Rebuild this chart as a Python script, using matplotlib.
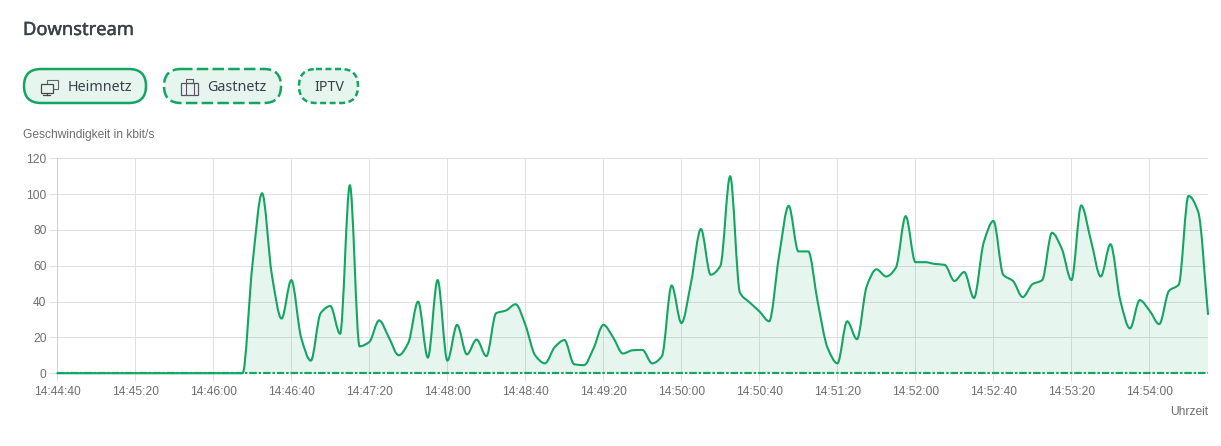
import numpy as np
import matplotlib
matplotlib.use('Agg')
import matplotlib.pyplot as plt
import matplotlib.patheffects as pe
from matplotlib.patches import FancyBboxPatch, PathPatch, Rectangle
from matplotlib.path import Path

# one sample every 5 seconds, starting at 14:44:40
heimnetz = [0] * 20 + [
    60, 100.5, 55, 30.5, 52, 20, 7, 33.5, 37.5, 22,
    105, 15, 17.5, 29.5, 20, 10, 17, 40, 8.7, 52,
    7, 27, 10.5, 18.8, 9.5, 33.5, 35, 38.5, 27, 10,
    5.5, 14.5, 18.5, 5, 4.5, 14, 27, 20, 11, 12.8,
    13, 5.5, 9.5, 49, 28, 51, 80.5, 55, 60, 110,
    45, 39.5, 34.5, 29, 65, 93.5, 68, 68, 39, 14,
    5.5, 29, 19, 48.5, 58, 54, 59, 87.7, 62, 62,
    61, 60.5, 51.5, 56.5, 42, 73, 85, 55, 51.5, 42.5,
    49.7, 52, 78.4, 69.6, 52, 93.7, 74, 54, 72, 40.8,
    25, 40.8, 35, 27.4, 46, 49.5, 99, 90, 33,
]
gastnetz = [0] * len(heimnetz)
iptv = [0] * len(heimnetz)
seconds = [5 * i for i in range(len(heimnetz))]

tick_seconds = list(range(0, 561, 40))
tick_labels = ['14:44:40', '14:45:20', '14:46:00', '14:46:40', '14:47:20',
               '14:48:00', '14:48:40', '14:49:20', '14:50:00', '14:50:40',
               '14:51:20', '14:52:00', '14:52:40', '14:53:20', '14:54:00']
y_ticks = [0, 20, 40, 60, 80, 100, 120]

GREEN = '#14a562'
FILL = '#e6f5ee'
GRID = '#e0e0e0'
TICK_TEXT = '#6f6f6f'
DARK = '#3b4149'


def monotone_path(x, y):
    # bezier segments with monotone tangents, same smoothing the web chart uses
    x = np.asarray(x, float)
    y = np.asarray(y, float)
    h = np.diff(x)
    s = np.diff(y) / h
    m = np.zeros(len(x))
    for i in range(1, len(x) - 1):
        if s[i - 1] * s[i] > 0:
            m[i] = 2 * s[i - 1] * s[i] / (s[i - 1] + s[i])
    m[0] = s[0]
    m[-1] = s[-1]
    verts = [(x[0], y[0])]
    codes = [Path.MOVETO]
    for i in range(len(x) - 1):
        verts += [(x[i] + h[i] / 3, y[i] + m[i] * h[i] / 3),
                  (x[i + 1] - h[i] / 3, y[i + 1] - m[i + 1] * h[i] / 3),
                  (x[i + 1], y[i + 1])]
        codes += [Path.CURVE4] * 3
    return verts, codes


W, H = 1221, 446
fig = plt.figure(figsize=(W / 100, H / 100), dpi=100)
plt.rcParams['font.family'] = ['Liberation Sans', 'DejaVu Sans']

ax = fig.add_axes([57.3 / W, 1 - 373.2 / H, (1208 - 57.3) / W, (373.2 - 158.3) / H])
ax.set_xlim(0, 590)
ax.set_ylim(0, 120)
ax.set_xticks(tick_seconds)
ax.set_xticklabels(tick_labels)
ax.set_yticks(y_ticks)
ax.grid(True, color=GRID, linewidth=0.72)
ax.set_axisbelow(True)
ax.tick_params(axis='both', color=GRID, length=5.76, width=0.72, labelcolor=TICK_TEXT, labelsize=8.64, pad=2)
ax.tick_params(axis='x', pad=3.2)
for name, spine in ax.spines.items():
    spine.set_visible(name == 'left')
    spine.set_color('#cfcfcf')
    spine.set_linewidth(0.72)

verts, codes = monotone_path(seconds, heimnetz)
area = Path(verts + [(seconds[-1], 0), (seconds[0], 0), (seconds[0], 0)],
            codes + [Path.LINETO, Path.LINETO, Path.CLOSEPOLY])
ax.add_patch(PathPatch(area, facecolor=GREEN, alpha=0.105, edgecolor='none', zorder=2))
ax.plot(seconds, gastnetz, color=GREEN, linewidth=1.5, linestyle=(0, (3.4, 3.2)), clip_on=False, zorder=3)
ax.plot(seconds, iptv, color=GREEN, linewidth=1.5, linestyle=(0, (3.4, 1, 1.2, 1)), clip_on=False, zorder=3)
ax.add_patch(PathPatch(Path(verts, codes), facecolor='none', edgecolor=GREEN, linewidth=1.5,
                       capstyle='round', joinstyle='round', clip_on=False, zorder=4))

# page chrome above the chart, in pixel coordinates
page = fig.add_axes([0, 0, 1, 1], zorder=5)
page.set_xlim(0, W)
page.set_ylim(H, 0)
page.axis('off')

page.text(23, 30, 'Downstream', fontsize=13.2, family='Noto Sans', color=DARK, va='center', ha='left',
          path_effects=[pe.withStroke(linewidth=0.3, foreground=DARK)])
page.text(23, 135, 'Geschwindigkeit in kbit/s', fontsize=8.64, color=TICK_TEXT, va='center')
page.text(1208, 412, 'Uhrzeit', fontsize=8.64, color=TICK_TEXT, ha='right', va='center')


def pill(x0, x1, label, text_x, dashes):
    page.add_patch(FancyBboxPatch((x0, 69), x1 - x0, 34,
                                  boxstyle='round,pad=0,rounding_size=17',
                                  facecolor=FILL, edgecolor=GREEN, linewidth=1.8, linestyle=dashes))
    page.text(text_x, 87.5, label, fontsize=10.3, family='Noto Sans', color=DARK, va='center', ha='left')


pill(24, 146, 'Heimnetz', 67.5, '-')
pill(164, 281, 'Gastnetz', 207.5, (0, (4.6, 1.7)))
pill(299, 358, 'IPTV', 314, (0, (2.4, 1.4)))

# monitor icon
page.add_patch(Rectangle((46.5, 79.5), 11.5, 9.5, facecolor='none', edgecolor='#66666a', linewidth=0.8))
page.add_patch(Rectangle((41, 84), 11.5, 8.5, facecolor=FILL, edgecolor='#4a4a4e', linewidth=0.9))
page.plot([46.5, 46.5], [92.5, 94.5], color='#4a4a4e', linewidth=0.9)
page.plot([43, 50], [94.7, 94.7], color='#4a4a4e', linewidth=0.9)

# suitcase icon
page.add_patch(Rectangle((181, 83), 17, 11.5, facecolor='none', edgecolor='#5a5560', linewidth=0.9))
page.add_patch(Rectangle((186, 79), 7, 4, facecolor='none', edgecolor='#5a5560', linewidth=0.8))
page.plot([185.5, 185.5], [83, 94.5], color='#5a5560', linewidth=0.8)
page.plot([193.5, 193.5], [83, 94.5], color='#5a5560', linewidth=0.8)

fig.savefig('out.png', dpi=100)
